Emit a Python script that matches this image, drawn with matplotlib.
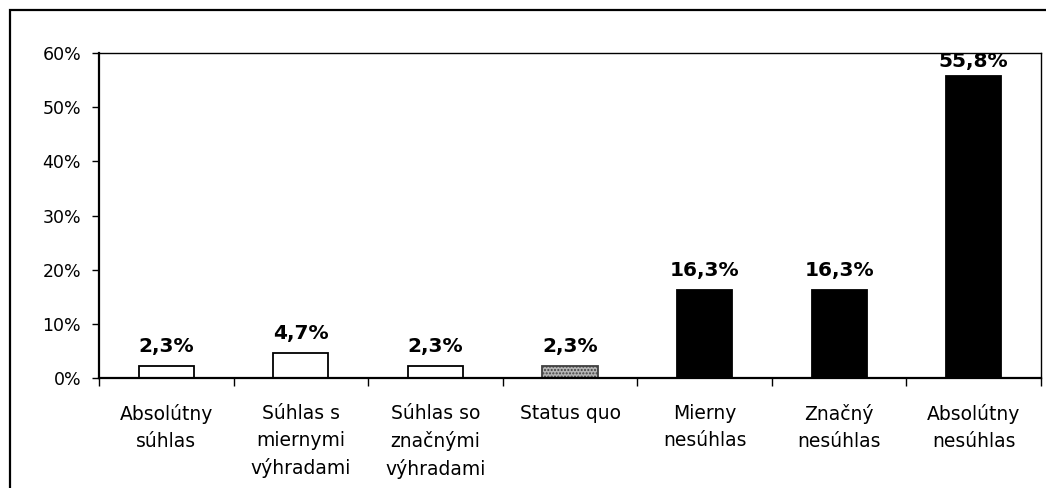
import matplotlib
matplotlib.use("Agg")
import matplotlib.pyplot as plt
from matplotlib.patches import Rectangle
import numpy as np

categories = ["Absolútny\nsúhlas", "Súhlas s\nmiernymi\nvýhradami",
              "Súhlas so\nznačnými\nvýhradami", "Status quo",
              "Mierny\nnesúhlas", "Značný\nnesúhlas", "Absolútny\nnesúhlas"]
values = [2.3, 4.7, 2.3, 2.3, 16.3, 16.3, 55.8]
value_labels = ["2,3%", "4,7%", "2,3%", "2,3%", "16,3%", "16,3%", "55,8%"]
colors = ["white", "white", "white", "#b4b4b4", "black", "black", "black"]
hatches = [None, None, None, ".....", None, None, None]
yticks = [0, 10, 20, 30, 40, 50, 60]

plt.rcParams['font.family'] = ['DejaVu Sans']

fig = plt.figure(figsize=(10.46, 4.88), dpi=100)
ax = fig.add_axes([0.0947, 0.2254, 0.9005, 0.666])

x = np.arange(len(values))
bars = ax.bar(x, values, width=0.41, color=colors, edgecolor="black", linewidth=1.3)
for b, h in zip(bars, hatches):
    if h:
        b.set_hatch(h)
        b.set_edgecolor("#404040")

ymax = 60
for xi, v, lab in zip(x, values, value_labels):
    t = ax.annotate(lab, (xi, v), xytext=(0, 10), textcoords="offset points",
                    ha="center", va="baseline", fontsize=14.5, fontweight="bold")
    # labels that would leave the plot area get pushed down under its top edge
    if v > ymax * 0.85:
        t.xy = (xi, ymax)
        t.set_position((0, 1))
        t.set_va("top")

ax.set_xlim(-0.5, len(values) - 0.5)
ax.set_ylim(0, ymax)
ax.set_yticks(yticks)
ax.set_yticklabels([f"{t}%" for t in yticks], fontsize=12.5)
ax.set_xticks(x)
ax.set_xticklabels(categories, fontsize=13.5, linespacing=1.5, va="top")
ax.set_xticks(np.arange(-0.5, len(values)), minor=True)
ax.tick_params(axis="x", which="major", length=0, pad=19)
ax.tick_params(axis="x", which="minor", length=6, width=1, direction="out")
ax.tick_params(axis="y", length=5, width=1, pad=8)

for side in ["left", "bottom"]:
    ax.spines[side].set_linewidth(1.6)
for side in ["top", "right"]:
    ax.spines[side].set_linewidth(1.0)

# outer chart frame
fig.patches.append(Rectangle((10 / 1046, -0.2), 1.2, 1.2 - 10 / 488, transform=fig.transFigure,
                             fill=False, edgecolor="black", linewidth=1.6, clip_on=False))

fig.savefig("out.png", dpi=100)
